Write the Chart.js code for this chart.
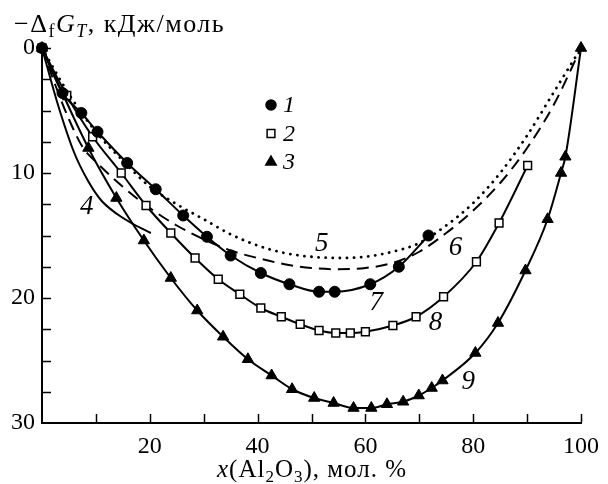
<!DOCTYPE html>
<html>
<head>
<meta charset="utf-8">
<script src="https://cdn.jsdelivr.net/npm/chart.js@4.4.1/dist/chart.umd.min.js"></script>
<style>
  html, body { margin: 0; padding: 0; background: #fff; }
</style>
</head>
<body>
<canvas id="chart" width="608" height="484"></canvas>
<script>
// ряд 1 (кружки), кривая 7
const circleX = [0, 3.8, 7.3, 10.3, 15.8, 21.1, 26.2, 30.6, 35.0, 40.6, 45.9, 51.4, 54.3, 60.9, 66.2, 71.7]
const circleY = [0, 3.6, 5.2, 6.7, 9.2, 11.3, 13.4, 15.1, 16.6, 18.0, 18.9, 19.5, 19.5, 18.9, 17.5, 15.0]

// ряд 2 (квадраты), кривая 8
const squareX = [0, 4.6, 9.4, 14.7, 19.3, 23.9, 28.4, 32.7, 36.7, 40.6, 44.4, 47.9, 51.4, 54.5, 57.2, 60.0, 65.1, 69.4, 74.5, 80.6, 84.8, 90.1]
const squareY = [0, 3.8, 7.1, 10.0, 12.6, 14.8, 16.8, 18.5, 19.7, 20.8, 21.5, 22.1, 22.6, 22.8, 22.8, 22.7, 22.2, 21.5, 19.9, 17.1, 14.0, 9.4]

// ряд 3 (треугольники), кривая 9
const triangleX = [0, 8.6, 13.8, 18.9, 23.9, 28.8, 33.6, 38.2, 42.6, 46.4, 50.5, 54.1, 57.8, 61.1, 64.0, 67.0, 69.9, 72.3, 74.3, 80.4, 84.6, 89.7, 93.8, 96.3, 97.1, 100]
const triangleY = [0, 8.0, 12.0, 15.4, 18.4, 21.0, 23.1, 24.9, 26.2, 27.3, 28.0, 28.4, 28.8, 28.8, 28.5, 28.3, 27.8, 27.2, 26.6, 24.4, 22.0, 17.8, 13.7, 10.0, 8.7, 0]

// кривая 4
const curve4X = [0, 3, 6, 8.5, 11, 14, 17, 20.2]
const curve4Y = [0, 4.6, 8.4, 10.6, 12.2, 13.3, 14.1, 14.8]

// кривая 5 (точки)
const curve5X = [0, 5, 10, 15, 20, 25, 30, 35, 40, 45, 50, 55, 60, 65, 70, 75, 80, 85, 90, 95, 100]
const curve5Y = [0, 3.7, 6.7, 9.0, 11.1, 12.5, 13.7, 14.9, 15.8, 16.4, 16.7, 16.8, 16.7, 16.3, 15.6, 14.2, 12.4, 10.0, 7.0, 3.5, 0]

// кривая 6 (штрихи)
const curve6X = [0, 2.5, 5, 7.5, 10, 15, 20, 25, 30, 35, 40, 45, 50, 55, 60, 65, 70, 75, 80, 85, 90, 95, 100]
const curve6Y = [0, 3.0, 5.7, 7.9, 9.1, 11.1, 12.8, 14.2, 15.3, 16.2, 16.8, 17.3, 17.6, 17.7, 17.6, 17.2, 16.3, 14.8, 13.0, 10.8, 8.0, 4.5, 0]

// подписи кривых
const curveLabels = ['4', '5', '6', '7', '8', '9']
const curveLabelX = [8.3, 51.9, 76.7, 62.0, 73.0, 79.1]
const curveLabelY = [12.7, 15.7, 16.0, 20.4, 22.0, 26.7]

const legendLabels = ['1', '2', '3']

const FONT = '"Liberation Serif", "Times New Roman", serif'

function toPoints(xs, ys) {
    return xs.map((x, i) => ({ x: x, y: ys[i] }))
}

function drawRich(ctx, parts, x, y, align, size, spacing) {
    const sub = Math.round(size * 0.68)
    let total = 0
    ctx.letterSpacing = spacing
    parts.forEach(p => {
        ctx.font = `${p.i ? 'italic ' : ''}${p.sub ? sub : size}px ${FONT}`
        p.w = ctx.measureText(p.t).width
        total += p.w
    })
    let cx = align === 'center' ? x - total / 2 : x
    ctx.textAlign = 'left'
    ctx.textBaseline = 'alphabetic'
    parts.forEach(p => {
        ctx.font = `${p.i ? 'italic ' : ''}${p.sub ? sub : size}px ${FONT}`
        ctx.fillText(p.t, cx, y + (p.sub ? 5 : 0))
        cx += p.w
    })
    ctx.letterSpacing = '0px'
}

// засечки внутрь, подписи и легенда
const decorPlugin = {
    id: 'decor',
    beforeDatasetsDraw(chart) {
        const ctx = chart.ctx
        const xs = chart.scales.x
        const ys = chart.scales.y
        const area = chart.chartArea
        ctx.save()
        ctx.strokeStyle = '#000'
        ctx.lineWidth = 1.5
        xs.ticks.forEach(t => {
            if (t.value === 0) return
            const px = Math.round(xs.getPixelForValue(t.value)) + 0.5
            ctx.beginPath()
            ctx.moveTo(px, area.bottom)
            ctx.lineTo(px, area.bottom - 9)
            ctx.stroke()
        })
        ys.ticks.forEach(t => {
            if (t.value === 30) return
            const py = Math.round(ys.getPixelForValue(t.value)) + 0.5
            ctx.beginPath()
            ctx.moveTo(area.left, py)
            ctx.lineTo(area.left + 9, py)
            ctx.stroke()
        })
        ctx.restore()
    },
    afterDraw(chart) {
        const ctx = chart.ctx
        const xs = chart.scales.x
        const ys = chart.scales.y
        ctx.save()
        ctx.fillStyle = '#000'
        ctx.strokeStyle = '#000'

        // заголовок оси Y
        drawRich(ctx, [
            { t: '\u2212\u0394' }, { t: 'f', sub: true }, { t: 'G', i: true },
            { t: 'T', i: true, sub: true }, { t: ', кДж/моль' }
        ], 14, 32, 'left', 26, '1.5px')

        // заголовок оси X
        drawRich(ctx, [
            { t: 'x', i: true }, { t: '(Al' }, { t: '2', sub: true }, { t: 'O' },
            { t: '3', sub: true }, { t: '), мол. %' }
        ], 312, 477, 'center', 25, '1px')

        // номера кривых
        ctx.font = `italic 27px ${FONT}`
        ctx.textAlign = 'center'
        ctx.textBaseline = 'middle'
        curveLabels.forEach((label, i) => {
            ctx.fillText(label, xs.getPixelForValue(curveLabelX[i]), ys.getPixelForValue(curveLabelY[i]))
        })

        // легенда
        const styles = ['circle', 'rect', 'triangle']
        const radii = [5, 5.5, 6]
        legendLabels.forEach((label, i) => {
            const lx = 271
            const ly = 105 + i * 28.5
            ctx.fillStyle = i === 1 ? '#fff' : '#000'
            ctx.lineWidth = 1.5
            Chart.helpers.drawPoint(ctx, { pointStyle: styles[i], radius: radii[i], rotation: 0, borderWidth: 1.5 }, lx, ly)
            ctx.fillStyle = '#000'
            ctx.font = `italic 24px ${FONT}`
            ctx.textAlign = 'left'
            ctx.textBaseline = 'middle'
            ctx.fillText(label, lx + 12, ly + 1)
        })
        ctx.restore()
    }
}

const ctx = document.getElementById('chart').getContext('2d')

new Chart(ctx, {
    type: 'line',
    data: {
        datasets: [
            {
                label: '1',
                data: toPoints(circleX, circleY),
                borderColor: '#000',
                backgroundColor: '#000',
                borderWidth: 2,
                pointStyle: 'circle',
                pointRadius: 5.5,
                pointBorderWidth: 1,
                cubicInterpolationMode: 'monotone',
                clip: false
            },
            {
                label: '3',
                data: toPoints(triangleX, triangleY),
                borderColor: '#000',
                backgroundColor: '#000',
                borderWidth: 2,
                pointStyle: 'triangle',
                pointRadius: 6.5,
                pointBorderWidth: 1,
                cubicInterpolationMode: 'monotone',
                clip: false
            },
            {
                label: '2',
                data: toPoints(squareX, squareY),
                borderColor: '#000',
                backgroundColor: '#fff',
                borderWidth: 2,
                pointStyle: 'rect',
                pointRadius: 5.5,
                pointBorderWidth: 1.5,
                cubicInterpolationMode: 'monotone',
                clip: false
            },
            {
                label: '5',
                data: toPoints(curve5X, curve5Y),
                borderColor: '#000',
                borderWidth: 2.8,
                borderDash: [0.1, 7],
                borderCapStyle: 'round',
                pointRadius: 0,
                cubicInterpolationMode: 'monotone'
            },
            {
                label: '6',
                data: toPoints(curve6X, curve6Y),
                borderColor: '#000',
                borderWidth: 2,
                borderDash: [12, 7],
                pointRadius: 0,
                cubicInterpolationMode: 'monotone'
            },
            {
                label: '4',
                data: toPoints(curve4X, curve4Y),
                borderColor: '#000',
                borderWidth: 2,
                pointRadius: 0,
                cubicInterpolationMode: 'monotone'
            }
        ]
    },
    options: {
        responsive: false,
        animation: false,
        layout: { padding: { left: 0, right: 21, top: 48, bottom: 0 } },
        plugins: {
            legend: { display: false },
            tooltip: { enabled: false }
        },
        scales: {
            x: {
                type: 'linear',
                min: 0,
                max: 100,
                grid: { display: false, drawTicks: false },
                border: { display: true, color: '#000', width: 2 },
                ticks: {
                    stepSize: 10,
                    autoSkip: false,
                    maxRotation: 0,
                    padding: 9,
                    color: '#000',
                    font: { family: FONT, size: 24 },
                    callback: v => (v % 20 === 0 && v > 0) ? v : ''
                },
                afterFit: scale => { scale.height = 61 }
            },
            y: {
                type: 'linear',
                reverse: true,
                min: 0,
                max: 30,
                grid: { display: false, drawTicks: false },
                border: { display: true, color: '#000', width: 2 },
                ticks: {
                    stepSize: 2.5,
                    autoSkip: false,
                    padding: 7,
                    color: '#000',
                    font: { family: FONT, size: 24 },
                    callback: v => v % 10 === 0 ? v : ''
                },
                afterFit: scale => { scale.width = 42 }
            }
        }
    },
    plugins: [decorPlugin]
})
</script>
</body>
</html>
